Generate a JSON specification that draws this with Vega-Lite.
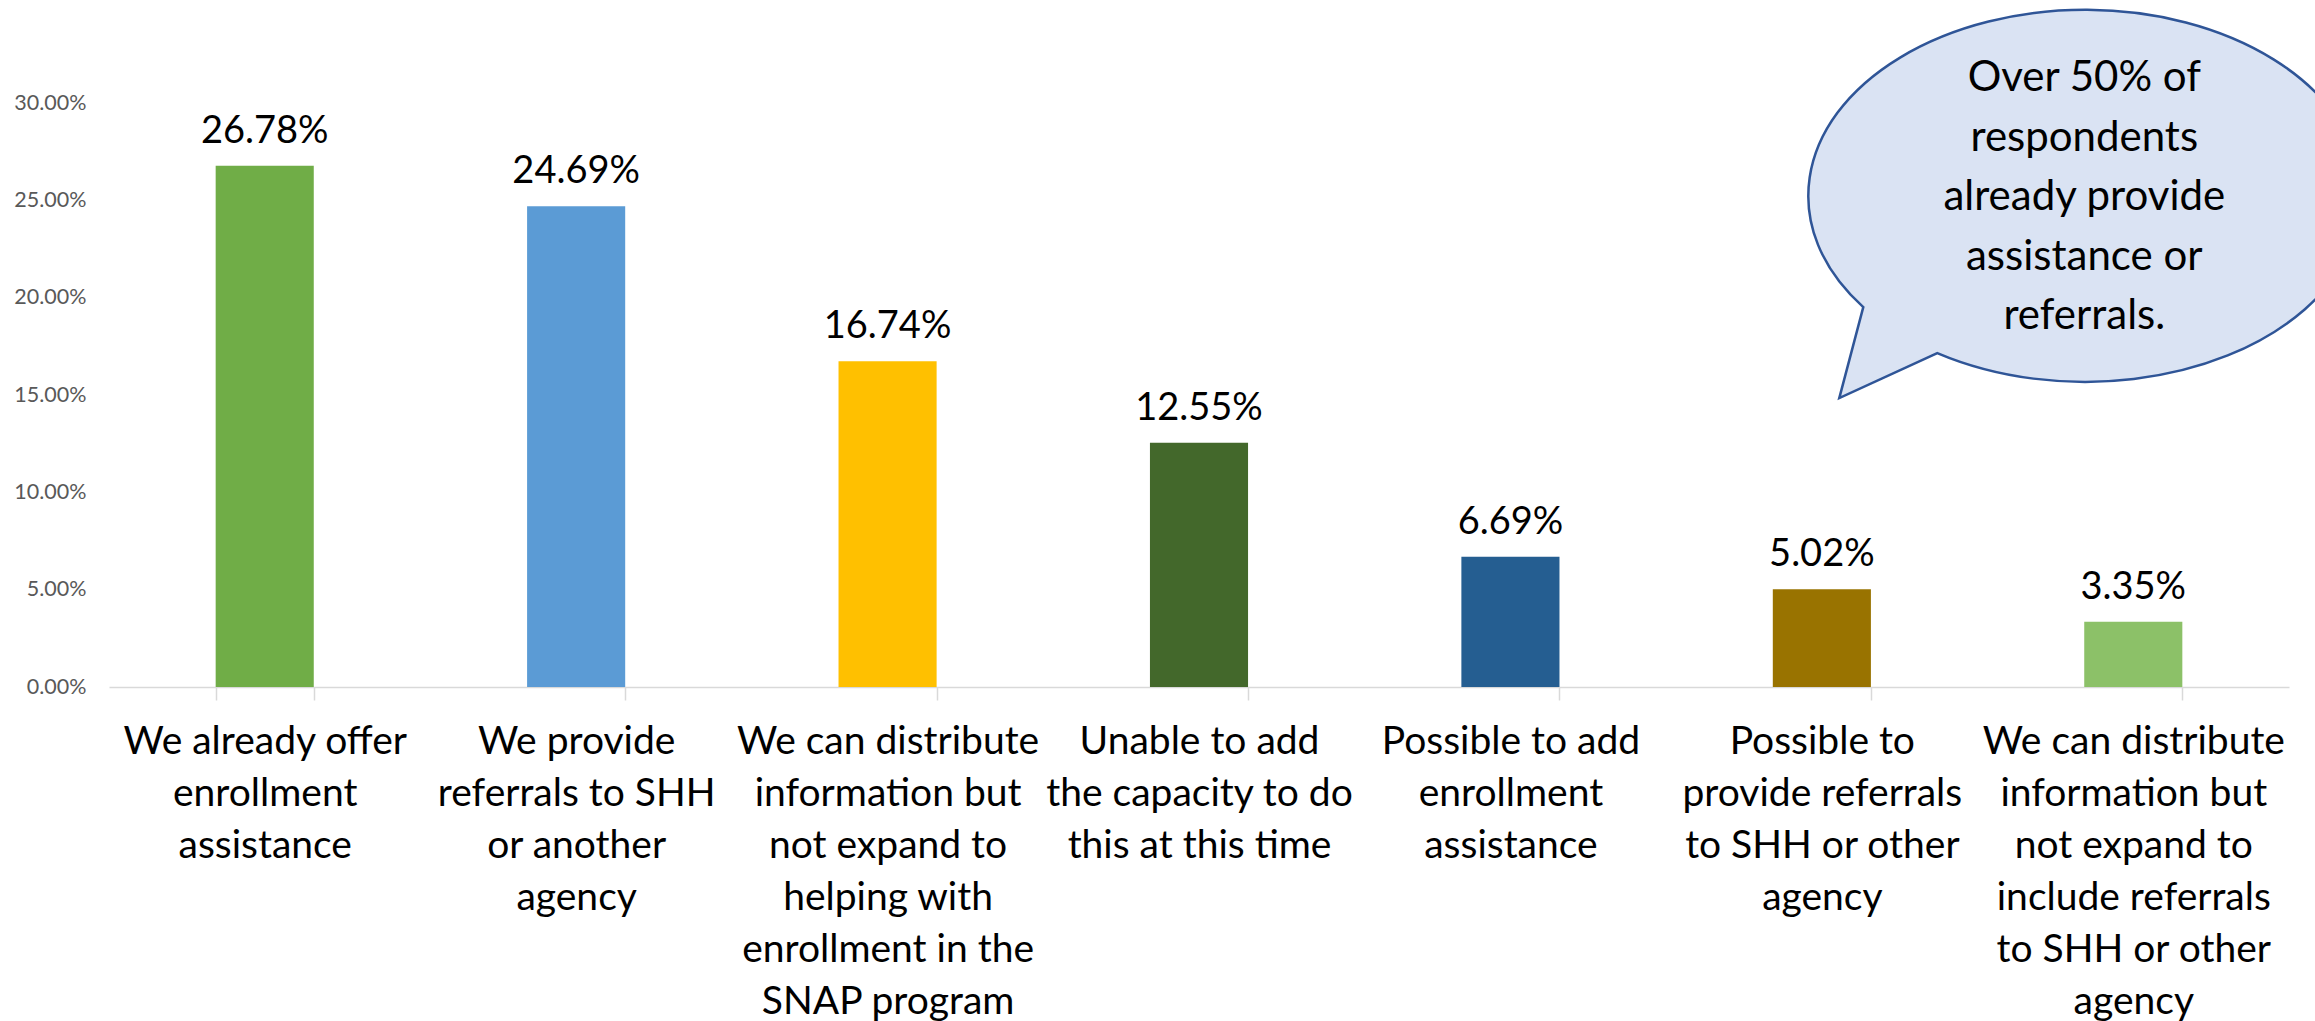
{
  "$schema": "https://vega.github.io/schema/vega-lite/v6.json",
  "width": 2180,
  "height": 584,
  "autosize": {"type": "none"},
  "padding": {"left": 109, "top": 103, "right": 26, "bottom": 334},
  "background": "white",
  "config": {"view": {"stroke": null}, "font": "Lato"},
  "data": {
    "values": [
      {"response": "We already offer|enrollment|assistance", "share": 0.2678},
      {"response": "We provide|referrals to SHH|or another|agency", "share": 0.2469},
      {"response": "We can distribute|information but|not expand to|helping with|enrollment in the|SNAP program", "share": 0.1674},
      {"response": "Unable to add|the capacity to do|this at this time", "share": 0.1255},
      {"response": "Possible to add|enrollment|assistance", "share": 0.0669},
      {"response": "Possible to|provide referrals|to SHH or other|agency", "share": 0.0502},
      {"response": "We can distribute|information but|not expand to|include referrals|to SHH or other|agency", "share": 0.0335}
    ]
  },
  "encoding": {
    "x": {
      "field": "response",
      "type": "nominal",
      "sort": null,
      "scale": {"paddingInner": 0.685, "paddingOuter": 0.3425},
      "axis": {
        "title": null,
        "labelAngle": 0,
        "labelExpr": "split(datum.label, '|')",
        "labelFont": "Lato",
        "labelFontSize": 39,
        "labelColor": "#000000",
        "labelLineHeight": 52,
        "labelPadding": 22,
        "labelLimit": 0,
        "labelAlign": "center",
        "labelBaseline": "top",
        "domainColor": "#d9d9d9",
        "domainWidth": 1.5,
        "tickColor": "#d9d9d9",
        "tickWidth": 1.5,
        "tickSize": 13,
        "tickBand": "extent",
        "grid": false
      }
    },
    "y": {
      "field": "share",
      "type": "quantitative",
      "scale": {"domain": [0, 0.3], "nice": false},
      "axis": {
        "title": null,
        "values": [0, 0.05, 0.1, 0.15, 0.2, 0.25, 0.3],
        "format": ".2%",
        "labelFont": "Lato",
        "labelFontSize": 21.5,
        "labelColor": "#595959",
        "labelPadding": 23,
        "domain": false,
        "ticks": false,
        "grid": false
      }
    }
  },
  "layer": [
    {
      "mark": {"type": "bar"},
      "encoding": {
        "color": {
          "field": "response",
          "type": "nominal",
          "legend": null,
          "scale": {
            "domain": [
              "We already offer|enrollment|assistance",
              "We provide|referrals to SHH|or another|agency",
              "We can distribute|information but|not expand to|helping with|enrollment in the|SNAP program",
              "Unable to add|the capacity to do|this at this time",
              "Possible to add|enrollment|assistance",
              "Possible to|provide referrals|to SHH or other|agency",
              "We can distribute|information but|not expand to|include referrals|to SHH or other|agency"
            ],
            "range": ["#70ad47", "#5b9bd5", "#ffc000", "#43682b", "#255e91", "#997300", "#8cc168"]
          }
        }
      }
    },
    {
      "mark": {"type": "text", "font": "Lato", "fontSize": 38, "color": "#000000", "baseline": "alphabetic", "dy": -23},
      "encoding": {"text": {"field": "share", "type": "quantitative", "format": ".2%"}}
    },
    {
      "data": {"values": [{"response": "We can distribute|information but|not expand to|include referrals|to SHH or other|agency", "share": 0.2527}]},
      "mark": {
        "type": "point",
        "shape": "M -270 112 L -294 203 L -196 158 A 277 186 0 1 0 -270 112 Z",
        "size": 4,
        "filled": true,
        "fill": "#dae3f3",
        "stroke": "#2f5597",
        "strokeWidth": 2.5,
        "opacity": 1
      },
      "encoding": {}
    },
    {
      "data": {"values": [{"response": "We can distribute|information but|not expand to|include referrals|to SHH or other|agency", "share": 0.2527}]},
      "mark": {
        "type": "text",
        "text": ["Over 50% of", "respondents", "already provide", "assistance or", "referrals."],
        "font": "Lato",
        "fontSize": 42,
        "lineHeight": 59.5,
        "color": "#000000",
        "align": "center",
        "baseline": "middle",
        "dx": -49,
        "dy": -117
      },
      "encoding": {}
    }
  ]
}
